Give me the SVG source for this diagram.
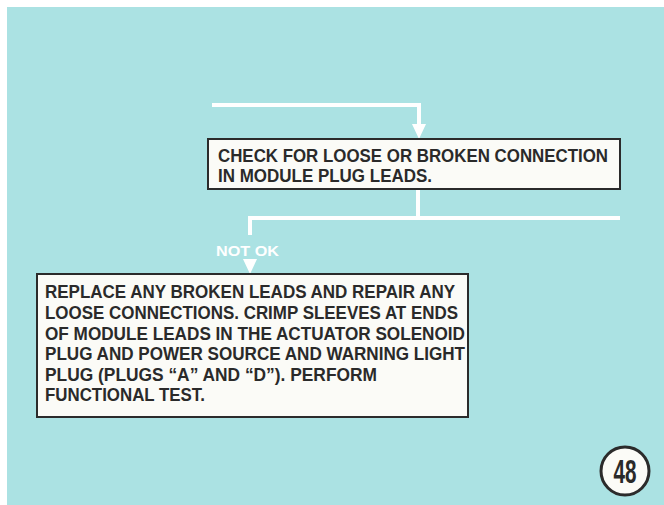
<svg xmlns="http://www.w3.org/2000/svg" width="664" height="505" viewBox="0 0 664 505">
<style>
.bg{fill:#abe2e3}
.box{fill:#fbfbf7;stroke:#2b2b2b;stroke-width:2}
.t{font-family:"Liberation Sans",Arial,sans-serif;font-weight:bold;font-size:18px;fill:#2a2a2a}
.wire{fill:none;stroke:#ffffff;stroke-width:4}
.lbl{font-family:"Liberation Sans",Arial,sans-serif;font-weight:bold;font-size:15px;fill:#ffffff}
</style>
<rect x="0" y="0" width="664" height="505" fill="#ffffff"/>
<rect class="bg" x="7" y="7" width="657" height="498"/>
<g id="connectors">
<path class="wire" d="M212,105 H419 V124"/>
<path d="M412,124 L426,124 L419,139 Z" fill="#ffffff"/>
<path class="wire" d="M418,189 V218"/>
<path class="wire" d="M250,235 V218 H620"/>
<path d="M243,259 L257,259 L250,274 Z" fill="#ffffff"/>
<text class="lbl" x="216" y="256" textLength="63" lengthAdjust="spacingAndGlyphs">NOT OK</text>
</g>
<g id="node-check">
<rect class="box" x="208" y="139" width="412" height="50"/>
<text class="t" x="218" y="162" textLength="390" lengthAdjust="spacingAndGlyphs">CHECK FOR LOOSE OR BROKEN CONNECTION</text>
<text class="t" x="218" y="182" textLength="214" lengthAdjust="spacingAndGlyphs">IN MODULE PLUG LEADS.</text>
</g>
<g id="node-replace">
<rect class="box" x="37" y="274" width="431" height="143"/>
<text class="t" x="45" y="298" textLength="410" lengthAdjust="spacingAndGlyphs">REPLACE ANY BROKEN LEADS AND REPAIR ANY</text>
<text class="t" x="45" y="319" textLength="413" lengthAdjust="spacingAndGlyphs">LOOSE CONNECTIONS. CRIMP SLEEVES AT ENDS</text>
<text class="t" x="45" y="340" textLength="420" lengthAdjust="spacingAndGlyphs">OF MODULE LEADS IN THE ACTUATOR SOLENOID</text>
<text class="t" x="45" y="360" textLength="420" lengthAdjust="spacingAndGlyphs">PLUG AND POWER SOURCE AND WARNING LIGHT</text>
<text class="t" x="45" y="381" textLength="332" lengthAdjust="spacingAndGlyphs">PLUG (PLUGS “A” AND “D”).  PERFORM</text>
<text class="t" x="45" y="401" textLength="160" lengthAdjust="spacingAndGlyphs">FUNCTIONAL TEST.</text>
</g>
<g id="page-number">
<circle cx="625" cy="471" r="24" fill="#fbfbf7" stroke="#2b2b2b" stroke-width="3"/>
<text x="625" y="483" text-anchor="middle" font-family="'Liberation Sans',Arial,sans-serif" font-weight="bold" font-size="33" fill="#2a2a2a" textLength="23" lengthAdjust="spacingAndGlyphs">48</text>
</g>
</svg>
